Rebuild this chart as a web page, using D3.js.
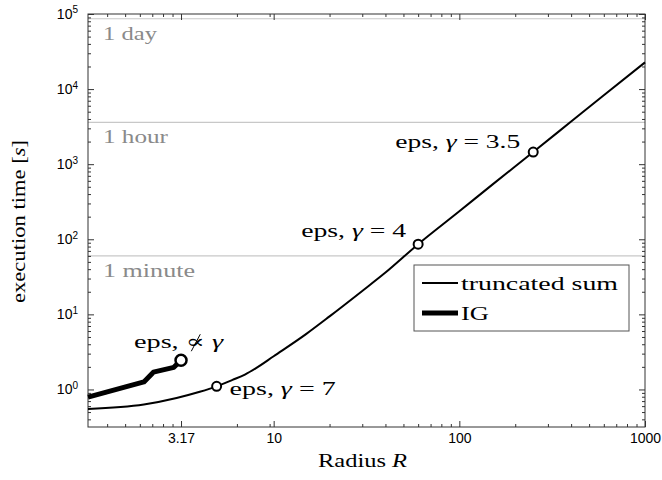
<!DOCTYPE html>
<html>
<head>
<meta charset="utf-8">
<script src="https://cdn.jsdelivr.net/npm/d3@7"></script>
<style>
  body { margin: 0; background: #fff; }
  svg text { font-family: "Liberation Serif", "DejaVu Serif", serif; }
  .tick text { font-family: "Liberation Sans", Arial, sans-serif; font-size: 14px; fill: #000; }
  .tick line { stroke: #333; }
</style>
</head>
<body>
<svg width="662" height="480"></svg>
<script>
// truncated sum
const truncR = [1, 2, 3, 4, 4.93, 6, 7, 8, 10, 15, 20, 30, 40, 60, 100, 150, 250, 400, 600, 1000];
const truncT = [0.55, 0.63, 0.77, 0.93, 1.1, 1.34, 1.58, 1.91, 2.77, 5.5, 9.4, 20.5, 36, 86, 236, 530, 1450, 3700, 8300, 22700];
// IG
const igR = [1, 2, 2.25, 2.9, 3.17];
const igT = [0.79, 1.26, 1.7, 1.97, 2.45];

const truncMarkR = [4.93, 60, 250];
const truncMarkT = [1.1, 86, 1450];
const truncMarkGamma = ["7", "4", "3.5"];

const limitT = [86400, 3600, 60];
const limitLabels = ["1 day", "1 hour", "1 minute"];

const xMajor = [3.17, 10, 100, 1000];
const xMinor = [1.268, 1.585, 1.902, 2.219, 2.536, 2.853, 6.34, 9.51,
  20, 30, 40, 50, 60, 70, 80, 90, 200, 300, 400, 500, 600, 700, 800, 900];
const yMajor = [1, 10, 100, 1e3, 1e4, 1e5];
const yMinor = [0.4, 0.5, 0.6, 0.7, 0.8, 0.9];
for (let e = 0; e < 5; e++) for (let k = 2; k <= 9; k++) yMinor.push(k * Math.pow(10, e));

const mLeft = 88, mRight = 645, mTop = 14, mBottom = 427;

const x = d3.scaleLog().domain([1, 1000]).range([mLeft, mRight]);
const y = d3.scaleLog().domain([Math.pow(10, -0.5), 1e5]).range([mBottom, mTop]);

const svg = d3.select("svg");

// stretch serif text to the wide look of the original typeface
function fit(sel, w) {
  sel.attr("textLength", w).attr("lengthAdjust", "spacingAndGlyphs");
}

// hour/day/minute lines
svg.selectAll("line.limit")
  .data(limitT)
  .enter()
  .append("line")
  .attr("class", "limit")
  .attr("x1", mLeft).attr("x2", mRight)
  .attr("y1", d => y(d)).attr("y2", d => y(d))
  .attr("stroke", "#c8c8c8")
  .attr("stroke-width", 1.2)

const limitW = [54, 65, 92];
svg.selectAll("text.limit")
  .data(limitT)
  .enter()
  .append("text")
  .attr("class", "limit")
  .attr("x", mLeft + 15)
  .attr("y", d => y(d) + 21)
  .attr("fill", "#8a8a8a")
  .attr("font-size", 19)
  .attr("textLength", (d, i) => limitW[i])
  .attr("lengthAdjust", "spacingAndGlyphs")
  .text((d, i) => limitLabels[i])

// axes
const gx = svg.append("g").attr("transform", `translate(0,${mBottom})`)
  .call(d3.axisBottom(x).tickValues(xMajor).tickSize(-6).tickPadding(6)
    .tickFormat(d => d === 3.17 ? "3.17" : d3.format("d")(d)));
gx.append("g").call(d3.axisBottom(x).tickValues(xMinor).tickSize(-3).tickFormat(""));

const gxt = svg.append("g").attr("transform", `translate(0,${mTop})`)
  .call(d3.axisTop(x).tickValues(xMajor).tickSize(-6).tickFormat(""));
gxt.append("g").call(d3.axisTop(x).tickValues(xMinor).tickSize(-3).tickFormat(""));

const gy = svg.append("g").attr("transform", `translate(${mLeft},0)`)
  .call(d3.axisLeft(y).tickValues(yMajor).tickSize(-6).tickPadding(10).tickFormat(""));
gy.append("g").call(d3.axisLeft(y).tickValues(yMinor).tickSize(-3).tickFormat(""));
gy.selectAll(":scope > .tick text")
  .attr("dy", "0.32em")
  .each(function(d) {
    const t = d3.select(this);
    t.append("tspan").text("10");
    t.append("tspan").attr("dy", "-0.55em").attr("font-size", 10)
      .text(Math.round(Math.log10(d)));
  });

const gyr = svg.append("g").attr("transform", `translate(${mRight},0)`)
  .call(d3.axisRight(y).tickValues(yMajor).tickSize(-6).tickFormat(""));
gyr.append("g").call(d3.axisRight(y).tickValues(yMinor).tickSize(-3).tickFormat(""));

svg.selectAll(".domain").remove();

svg.append("rect")
  .attr("x", mLeft).attr("y", mTop)
  .attr("width", mRight - mLeft).attr("height", mBottom - mTop)
  .attr("fill", "none")
  .attr("stroke", "#333")
  .attr("stroke-width", 1)

// curves
const line = d3.line().x(d => x(d[0])).y(d => y(d[1]));

svg.append("path")
  .datum(truncR.map((r, i) => [r, truncT[i]]))
  .attr("d", line.curve(d3.curveMonotoneX))
  .attr("fill", "none")
  .attr("stroke", "#000")
  .attr("stroke-width", 2)

svg.append("path")
  .datum(igR.map((r, i) => [r, igT[i]]))
  .attr("d", line.curve(d3.curveLinear))
  .attr("fill", "none")
  .attr("stroke", "#000")
  .attr("stroke-width", 5)
  .attr("stroke-linejoin", "round")

// markers
svg.selectAll("circle.trunc")
  .data(truncMarkR)
  .enter()
  .append("circle")
  .attr("class", "trunc")
  .attr("cx", d => x(d))
  .attr("cy", (d, i) => y(truncMarkT[i]))
  .attr("r", 4.5)
  .attr("fill", "#fff")
  .attr("stroke", "#000")
  .attr("stroke-width", 2)

svg.append("circle")
  .attr("cx", x(igR[igR.length - 1]))
  .attr("cy", y(igT[igT.length - 1]))
  .attr("r", 5.5)
  .attr("fill", "#fff")
  .attr("stroke", "#000")
  .attr("stroke-width", 2.5)

// annotations
const lblDx = [13, -117, -138];
const lblDy = [9, -7, -4];
const lblW = [106, 105, 125];
truncMarkR.forEach((r, i) => {
  const t = svg.append("text")
    .attr("x", x(r) + lblDx[i])
    .attr("y", y(truncMarkT[i]) + lblDy[i])
    .attr("font-size", 19)
    .call(fit, lblW[i]);
  t.append("tspan").text("eps, ");
  t.append("tspan").attr("font-style", "italic").text("γ");
  t.append("tspan").text(" = " + truncMarkGamma[i]);
});

const igX = x(igR[igR.length - 1]) - 47, igY = y(igT[igT.length - 1]) - 12;
const igLbl = svg.append("text")
  .attr("x", igX)
  .attr("y", igY)
  .attr("font-size", 19)
  .call(fit, 89);
igLbl.append("tspan").text("eps, ∝ ");
igLbl.append("tspan").attr("font-style", "italic").text("γ");
// slash through the proportional sign
const ext = igLbl.node().getExtentOfChar(5);
const sx = ext.x + ext.width / 2;
svg.append("line")
  .attr("x1", sx - 4).attr("y1", igY + 3)
  .attr("x2", sx + 5).attr("y2", igY - 14)
  .attr("stroke", "#000")
  .attr("stroke-width", 1)

// legend
const lg = svg.append("g").attr("transform", "translate(414,265)");
lg.append("rect")
  .attr("width", 215).attr("height", 66)
  .attr("fill", "#fff")
  .attr("stroke", "#555")
  .attr("stroke-width", 1)
const legendNames = ["truncated sum", "IG"];
const legendWidths = [2, 5];
const legendTextW = [157, 28];
legendNames.forEach((n, i) => {
  lg.append("line")
    .attr("x1", 8).attr("x2", 44)
    .attr("y1", 18 + i * 30).attr("y2", 18 + i * 30)
    .attr("stroke", "#000")
    .attr("stroke-width", legendWidths[i])
  lg.append("text")
    .attr("x", 47).attr("y", 25 + i * 30)
    .attr("font-size", 19)
    .call(fit, legendTextW[i])
    .text(n)
});

// axis titles
const xt = svg.append("text")
  .attr("x", 318).attr("y", 467)
  .attr("font-size", 18)
  .call(fit, 89);
xt.append("tspan").text("Radius ");
xt.append("tspan").attr("font-style", "italic").text("R");

const yt = svg.append("text")
  .attr("transform", "translate(25,303) rotate(-90)")
  .attr("font-size", 18)
  .call(fit, 163);
yt.append("tspan").text("execution time [");
yt.append("tspan").attr("font-style", "italic").text("s");
yt.append("tspan").text("]");
</script>
</body>
</html>
